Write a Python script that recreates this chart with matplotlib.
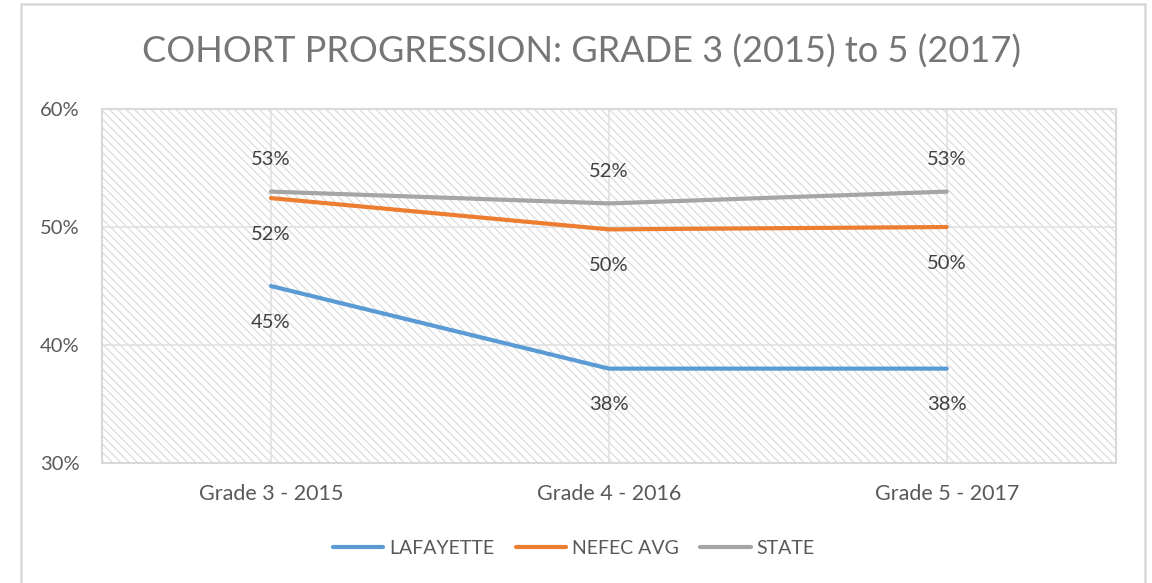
import matplotlib.pyplot as plt
from matplotlib.patches import Rectangle

# data
categories = ['Grade 3 - 2015', 'Grade 4 - 2016', 'Grade 5 - 2017']
lafayette = [45.0, 38.0, 38.0]
nefec_avg = [52.45, 49.8, 50.0]
state = [53.0, 52.0, 53.0]

series_names = ['LAFAYETTE', 'NEFEC AVG', 'STATE']
colors = ['#5b9bd5', '#ed7d31', '#a5a5a5']

plt.rcParams['font.family'] = ['Lato', 'DejaVu Sans']
plt.rcParams['hatch.linewidth'] = 0.8

fig = plt.figure(figsize=(11.52, 5.83), dpi=100)
ax = fig.add_axes([0.0885, 0.2058, 0.880, 0.6072])

# outer chart border
fig.patches.append(Rectangle((21 / 1152, -0.1), (1145 - 21) / 1152, 1.1 - 4 / 583,
                             transform=fig.transFigure, fill=False,
                             edgecolor='#d9d9d9', lw=1.8))

# hatched plot area
ax.patch.set_facecolor('white')
ax.patch.set_hatch('\\\\\\\\')
ax.patch.set_edgecolor('#d9d9d9')
ax.patch.set_linewidth(0)

x = list(range(len(categories)))
all_series = [lafayette, nefec_avg, state]
for vals, name, c in zip(all_series, series_names, colors):
    ax.plot(x, vals, color=c, lw=3.0, label=name, solid_capstyle='round', zorder=3)

# data labels
for i, v in enumerate(state):
    ax.annotate(f'{v:.0f}%', (i, v), xytext=(0, 23), textcoords='offset points',
                ha='center', va='center', fontsize=14.5, color='#404040')
for vals in (nefec_avg, lafayette):
    for i, v in enumerate(vals):
        ax.annotate(f'{round(v):.0f}%', (i, v), xytext=(0, -26), textcoords='offset points',
                    ha='center', va='center', fontsize=14.5, color='#404040')

ax.set_xlim(-0.5, 2.5)
ax.set_ylim(30, 60)
ax.set_yticks([30, 40, 50, 60])
ax.set_yticklabels(['30%', '40%', '50%', '60%'])
ax.set_xticks(x)
ax.set_xticklabels(categories)
ax.tick_params(length=0, labelsize=14.5, labelcolor='#595959')
ax.tick_params(axis='x', labelsize=15.5, pad=15)
ax.tick_params(axis='y', pad=16)
ax.grid(True, color='#e0e0e0', lw=1.2, zorder=1)
ax.set_axisbelow(True)
for s in ax.spines.values():
    s.set_color('#d9d9d9')
    s.set_linewidth(1.5)

fig.text(0.505, 0.911, 'COHORT PROGRESSION: GRADE 3 (2015) to 5 (2017)',
         ha='center', va='center', fontsize=26, color='#767676')

fig.legend(loc='center', bbox_to_anchor=(0.498, 0.06), ncol=3, frameon=False,
           fontsize=14, labelcolor='#595959', handlelength=2.6, handletextpad=0.3,
           columnspacing=1.1)

fig.savefig('out.png', dpi=100)
